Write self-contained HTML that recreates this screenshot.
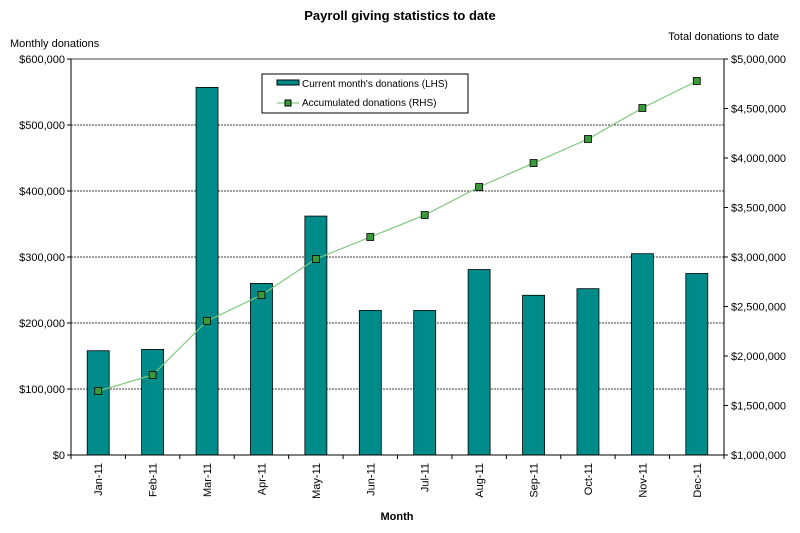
<!DOCTYPE html>
<html><head><meta charset="utf-8"><style>
body{margin:0;background:#fff;font-family:"Liberation Sans",Arial,sans-serif}
svg text{font-family:"Liberation Sans",Arial,sans-serif;fill:#000}
</style></head><body>
<svg id="chart" width="800" height="528">
<text x="400" y="20" text-anchor="middle" font-size="13" font-weight="bold">Payroll giving statistics to date</text>
<text x="10" y="47" font-size="11">Monthly donations</text>
<text x="779" y="40" text-anchor="end" font-size="11">Total donations to date</text>
<text x="397" y="520" text-anchor="middle" font-size="11" font-weight="bold">Month</text>
<g id="grid"></g><g id="bars"></g><g id="line"></g><g id="axes"></g>
<g>
<rect x="262" y="74" width="206" height="39" fill="#fff" stroke="#000"/>
<rect x="277" y="80" width="22" height="5" fill="#008B8B" stroke="#000"/>
<text x="302" y="87" font-size="10">Current month's donations (LHS)</text>
<line x1="277" y1="103" x2="299" y2="103" stroke="#6fbf6f"/>
<rect x="285" y="100" width="6" height="6" fill="#3a9a3a" stroke="#000"/>
<text x="302" y="106" font-size="10">Accumulated donations (RHS)</text>
</g>
</svg>
<script>
const months=["Jan-11","Feb-11","Mar-11","Apr-11","May-11","Jun-11","Jul-11","Aug-11","Sep-11","Oct-11","Nov-11","Dec-11"];
const monthly=[158000,160000,557000,260000,362000,219000,219000,281000,242000,252000,305000,275000];
const accumulated=[1646000,1808000,2354000,2616000,2980000,3202000,3424000,3707000,3949000,4192000,4505000,4778000];
const leftTicks=[0,100000,200000,300000,400000,500000,600000];
const rightTicks=[1000000,1500000,2000000,2500000,3000000,3500000,4000000,4500000,5000000];
const NS="http://www.w3.org/2000/svg";
const L=71,R=724,T=59,B=455;
const yL=v=>B-(v/600000)*(B-T);
const yR=v=>B-((v-1000000)/4000000)*(B-T);
const cw=(R-L)/months.length;
const xC=i=>L+cw*(i+0.5);
function mk(tag,attrs,parent){const e=document.createElementNS(NS,tag);for(const k in attrs)e.setAttribute(k,attrs[k]);parent.appendChild(e);return e;}
const fmt=v=>"$"+v.toLocaleString("en-US");
const grid=document.getElementById("grid"),bars=document.getElementById("bars"),line=document.getElementById("line"),axes=document.getElementById("axes");
leftTicks.forEach(v=>{
 if(v>0){const g=mk("line",{x1:L,x2:R,y1:yL(v),y2:yL(v),stroke:"#000","stroke-dasharray":"2,1","stroke-width":0.8},grid);
 
 }
 mk("line",{x1:L-4,x2:L,y1:yL(v),y2:yL(v),stroke:"#000"},axes);
 const t=mk("text",{x:L-6,y:yL(v)+4,"text-anchor":"end","font-size":"11"},axes);t.textContent=fmt(v);
 
 
});
rightTicks.forEach(v=>{
 mk("line",{x1:R,x2:R+4,y1:yR(v),y2:yR(v),stroke:"#000"},axes);
 const t=mk("text",{x:R+7,y:yR(v)+4,"font-size":"11"},axes);t.textContent=fmt(v);
 
 
});
mk("line",{x1:L,x2:R,y1:T,y2:T,stroke:"#444"},axes);
mk("line",{x1:L,x2:L,y1:T,y2:B,stroke:"#000"},axes);
mk("line",{x1:R,x2:R,y1:T,y2:B,stroke:"#000"},axes);
mk("line",{x1:L,x2:R,y1:B,y2:B,stroke:"#000"},axes);
const bw=22;
months.forEach((m,i)=>{
 const x=L+cw*i;
 mk("line",{x1:x,x2:x,y1:B,y2:B+4,stroke:"#000"},axes);
 const b=mk("rect",{x:xC(i)-bw/2,y:yL(monthly[i]),width:bw,height:B-yL(monthly[i]),fill:"#008B8B",stroke:"#000","stroke-width":0.8},bars);
 
 
 const t=mk("text",{x:0,y:0,"text-anchor":"end","font-size":"11",transform:`translate(${xC(i)+4},${B+8}) rotate(-90)`},axes);t.textContent=m;
 
 
});
mk("line",{x1:R,x2:R,y1:B,y2:B+4,stroke:"#000"},axes);
const pl=mk("polyline",{points:accumulated.map((v,i)=>xC(i)+","+yR(v)).join(" "),fill:"none",stroke:"#7fc87f","stroke-width":1.2},line);


accumulated.forEach((v,i)=>{
 const p=mk("rect",{x:xC(i)-3.5,y:yR(v)-3.5,width:7,height:7,fill:"#3a9a3a",stroke:"#000","stroke-width":0.8},line);
 
 
});
</script>
</body></html>
